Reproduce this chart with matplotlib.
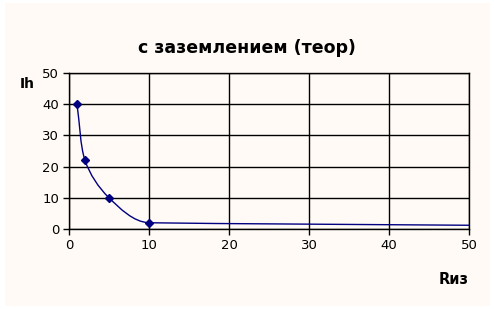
import matplotlib
matplotlib.use("Agg")
import matplotlib.pyplot as plt
from matplotlib.path import Path
from matplotlib.patches import PathPatch, Rectangle
import numpy as np

plt.rcParams['font.family'] = ['DejaVu Sans']

# data
r_iz = [1, 2, 5, 10, 100]
i_h = [40, 22, 10, 2, 0.3]
n_marked = 4  # points shown with markers
x_ticks = [0, 10, 20, 30, 40, 50]
y_ticks = [0, 10, 20, 30, 40, 50]
title = "с заземлением (теор)"
x_label = "Rиз"
y_label = "Ih"

W, H = 494, 309
fig = plt.figure(figsize=(W / 100, H / 100), dpi=100, facecolor="white")
cream = "#FFFAF5"
fig.patches.append(Rectangle((5 / W, 3 / H), 485 / W, 303 / H, transform=fig.transFigure,
                             facecolor=cream, edgecolor="none", zorder=-10))

ax = fig.add_axes([69 / W, 1 - 229 / H, 400 / W, 156 / H])
ax.set_facecolor(cream)
ax.set_xlim(0, 50)
ax.set_ylim(0, 50)
ax.set_xticks(x_ticks)
ax.set_yticks(y_ticks)
ax.grid(True, color="black", linewidth=1)
ax.set_axisbelow(True)
for s in ax.spines.values():
    s.set_color("black")
    s.set_linewidth(1)
ax.tick_params(direction="out", length=4, width=1, labelsize=9.5, pad=3, colors="black")

# smooth line: cubic Bezier in screen space, tangent from neighbours,
# control length limited by the shorter adjacent segment (no loops)
sx, sy = 400 / 50, 156 / 50
P = np.column_stack([np.array(r_iz, float) * sx, np.array(i_h, float) * sy])
n = len(P)
seg = [np.linalg.norm(P[i + 1] - P[i]) for i in range(n - 1)]
tang, dlim = [], []
for i in range(n):
    a = P[i - 1] if i > 0 else P[i]
    b = P[i + 1] if i < n - 1 else P[i]
    t = b - a
    tang.append(t / np.linalg.norm(t))
    adj = [seg[j] for j in (i - 1, i) if 0 <= j < n - 1]
    dlim.append(min(adj) / 3)
verts = [tuple(P[0])]
codes = [Path.MOVETO]
for i in range(n - 1):
    c1 = P[i] + tang[i] * dlim[i]
    c2 = P[i + 1] - tang[i + 1] * dlim[i + 1]
    verts += [tuple(c1), tuple(c2), tuple(P[i + 1])]
    codes += [Path.CURVE4] * 3
verts = [(vx / sx, vy / sy) for vx, vy in verts]
patch = PathPatch(Path(verts, codes), facecolor="none", edgecolor="#000080", linewidth=1, zorder=3)
ax.add_patch(patch)
ax.plot(r_iz[:n_marked], i_h[:n_marked], linestyle="none", marker="D", markersize=4,
        color="#000080", zorder=4, clip_on=False)

fig.text(247 / W, 1 - 48 / H, title, ha="center", va="center", fontsize=12.5, fontweight="bold")
fig.text(27 / W, 1 - 84 / H, y_label, ha="center", va="center", fontsize=10, fontweight="bold")
fig.text(454 / W, 1 - 280 / H, x_label, ha="center", va="center", fontsize=10.5, fontweight="bold")

fig.savefig("out.png", dpi=100, facecolor="white")
